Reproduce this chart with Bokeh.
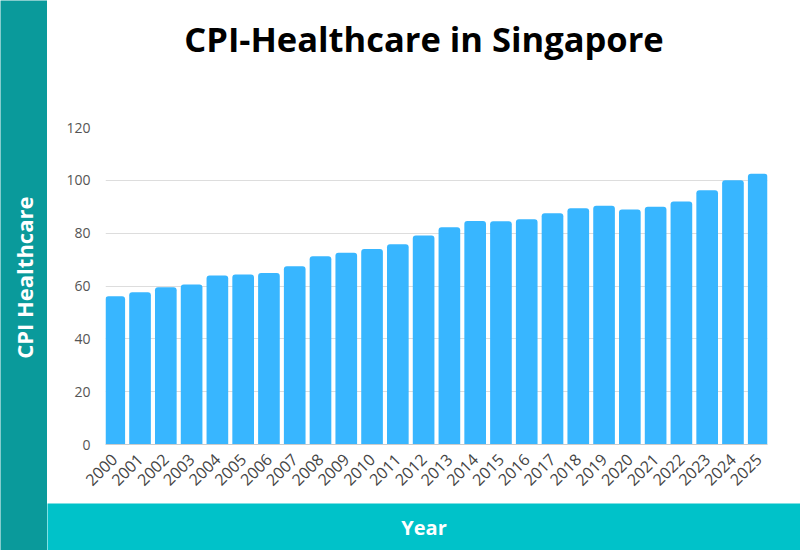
import math
from bokeh.plotting import figure
from bokeh.layouts import row, column
from bokeh.models import ColumnDataSource, Range1d, FactorRange
from bokeh.core.properties import value
from bokeh.embed import file_html
from bokeh.resources import INLINE

# CPI (Healthcare) index for Singapore by year
years = [str(y) for y in range(2000, 2026)]
cpi_health = [56.1, 57.6, 59.5, 60.6, 64.0, 64.4, 64.9, 67.5, 71.3, 72.6,
              74.0, 75.8, 79.1, 82.2, 84.6, 84.5, 85.3, 87.5, 89.4, 90.4,
              89.0, 90.0, 92.0, 96.2, 100.0, 102.5]
y_ticks = [0, 20, 40, 60, 80, 100, 120]

FONT = "Open Sans"
SIDE_TEAL = "#0a9a9b"
BOTTOM_TEAL = "#00c2c9"
BAR_BLUE = "#38b6ff"
BAR_WIDTH = 0.84


def plain_panel(width, height, fill):
    """A figure used only as a coloured panel holding a single text."""
    f = figure(width=width, height=height, x_range=Range1d(0, 1),
               y_range=Range1d(0, 1), output_backend="svg",
               toolbar_location=None, min_border=0,
               background_fill_color=fill, border_fill_color=fill)
    f.frame_align = False
    f.axis.visible = False
    f.grid.visible = False
    f.outline_line_color = None
    return f


src = ColumnDataSource(dict(year=years, cpi=cpi_health))

# title panel
header = plain_panel(753, 90, "white")
header.text(x=[0.5], y=[0.58], text=["CPI-Healthcare in Singapore"],
            text_font=value(FONT), text_font_size="34.5px", text_font_style="bold",
            text_color="black", text_align="center", text_baseline="middle")

# main chart; negative padding lets the outer bars sit flush with the frame
xr = FactorRange(*years, range_padding=-(1 - BAR_WIDTH), range_padding_units="absolute")
p = figure(width=753, height=413, x_range=xr,
           y_range=Range1d(0, 120), output_backend="svg", toolbar_location=None,
           min_border_left=58, min_border_right=33, min_border_top=37,
           min_border_bottom=59)
p.vbar(x="year", top="cpi", width=BAR_WIDTH, source=src, fill_color=BAR_BLUE,
       line_color=None, border_radius=[3, 3, 0, 0])

p.outline_line_color = None
p.xgrid.grid_line_color = None
p.ygrid.grid_line_color = "#dddddd"
p.ygrid.grid_line_width = 1

p.yaxis.ticker = y_ticks
p.yaxis.axis_line_color = None
p.yaxis.major_tick_line_color = None
p.yaxis.minor_tick_line_color = None
p.yaxis.major_label_text_font = FONT
p.yaxis.major_label_text_font_size = "14px"
p.yaxis.major_label_text_color = "#555555"
p.yaxis.major_label_standoff = 9

p.xaxis.axis_line_color = "#cccccc"
p.xaxis.major_tick_line_color = None
p.xaxis.minor_tick_line_color = None
p.xaxis.major_label_orientation = math.pi / 4
p.xaxis.major_label_text_font = FONT
p.xaxis.major_label_text_font_size = "16px"
p.xaxis.major_label_text_color = "#444444"
p.xaxis.major_label_standoff = 6

# left band carrying the y axis name
left = plain_panel(47, 550, SIDE_TEAL)
left.text(x=[0.5], y=[0.496], text=["CPI Healthcare"], angle=math.pi / 2,
          text_font=value(FONT), text_font_size="22px", text_font_style="bold",
          text_color="white", text_align="center", text_baseline="middle")

# bottom band carrying the x axis name
bottom = plain_panel(753, 47, BOTTOM_TEAL)
bottom.text(x=[0.5], y=[0.5], text=["Year"],
            text_font=value(FONT), text_font_size="20px", text_font_style="bold",
            text_color="white", text_align="center", text_baseline="middle")

layout = row(left, column(header, p, bottom, spacing=0), spacing=0)

open("out.html", "w").write(file_html(layout, INLINE))
